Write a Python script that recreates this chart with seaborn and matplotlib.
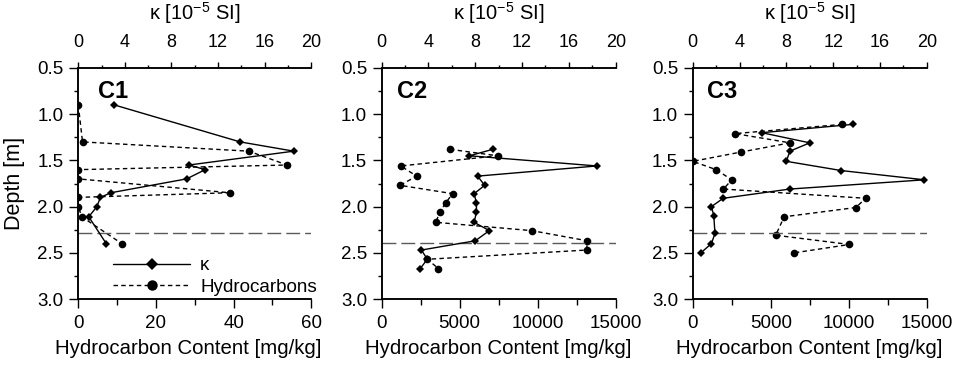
import matplotlib
matplotlib.use("Agg")
import matplotlib.pyplot as plt
from matplotlib.lines import Line2D
from matplotlib.ticker import MultipleLocator, FormatStrFormatter
import seaborn as sns

# Core C1
c1_k_depth = [0.90, 1.30, 1.40, 1.55, 1.60, 1.70, 1.85, 1.90, 2.00, 2.11, 2.40]
c1_k = [3.1, 13.9, 18.5, 9.5, 10.9, 9.3, 2.8, 1.9, 1.6, 0.9, 2.4]
c1_hc_depth = [0.90, 1.30, 1.40, 1.55, 1.60, 1.70, 1.85, 1.90, 2.00, 2.11, 2.40]
c1_hc = [0.0, 1.1, 43.9, 53.8, 0.0, 0.0, 39.0, 0.0, 0.0, 0.9, 11.2]
c1_ref = 2.29

# Core C2
c2_k_depth = [1.38, 1.45, 1.56, 1.67, 1.77, 1.86, 1.96, 2.06, 2.17, 2.26, 2.37, 2.47, 2.57, 2.67]
c2_k = [9.5, 7.5, 18.4, 8.2, 8.8, 7.9, 8.1, 8.1, 7.9, 9.2, 8.0, 3.4, 3.9, 3.3]
c2_hc_depth = [1.38, 1.45, 1.56, 1.67, 1.77, 1.86, 1.96, 2.06, 2.17, 2.26, 2.37, 2.47, 2.57, 2.67]
c2_hc = [4380, 7440, 1220, 2240, 1180, 4550, 4100, 3740, 3460, 9620, 13180, 13140, 2930, 3630]
c2_ref = 2.39

# Core C3
c3_k_depth = [1.11, 1.20, 1.31, 1.40, 1.51, 1.61, 1.71, 1.81, 1.91, 2.00, 2.10, 2.29, 2.40, 2.50]
c3_k = [13.7, 5.9, 10.0, 8.3, 8.0, 12.7, 19.8, 8.3, 2.6, 1.6, 1.8, 1.9, 1.6, 0.7]
c3_hc_depth = [1.11, 1.21, 1.31, 1.41, 1.51, 1.60, 1.71, 1.81, 1.91, 2.01, 2.11, 2.31, 2.41, 2.50]
c3_hc = [9590, 2710, 6240, 3080, 0, 1500, 2500, 1970, 11090, 10450, 5860, 5320, 10040, 6520]
c3_ref = 2.29

core_names = ["C1", "C2", "C3"]
hc_limits = [(0, 60), (0, 15000), (0, 15000)]
hc_major = [20, 5000, 5000]
hc_minor = [10, 2500, 2500]

sns.set_theme(style="ticks")
plt.rcParams["font.family"] = ["Liberation Sans", "DejaVu Sans"]
plt.rcParams["mathtext.fontset"] = "custom"
plt.rcParams["mathtext.rm"] = "Liberation Sans"
plt.rcParams["mathtext.it"] = "Liberation Sans:italic"
plt.rcParams["axes.linewidth"] = 1.1
plt.rcParams["axes.edgecolor"] = "black"
plt.rcParams["text.color"] = "black"
plt.rcParams["axes.labelcolor"] = "black"
plt.rcParams["xtick.color"] = "black"
plt.rcParams["ytick.color"] = "black"

fig = plt.figure(figsize=(9.58, 3.65), dpi=100)
lefts = [0.0817, 0.3984, 0.7231]
widths = [0.2432, 0.2443, 0.2443]
bottom, height = 0.1808, 0.6329

cores = [
    (c1_k_depth, c1_k, c1_hc_depth, c1_hc, c1_ref),
    (c2_k_depth, c2_k, c2_hc_depth, c2_hc, c2_ref),
    (c3_k_depth, c3_k, c3_hc_depth, c3_hc, c3_ref),
]
name_x = [0.083, 0.064, 0.062]
xlabel_x = [0.47, 0.5, 0.5]

tick_size = 13.5
hc_dash = (0, (3.2, 2.4))
for i, (kd, kv, hd, hv, ref) in enumerate(cores):
    ax = fig.add_axes([lefts[i], bottom, widths[i], height])
    axk = ax.twiny()

    # hydrocarbon content on the bottom axis
    sns.lineplot(x=hv, y=hd, ax=ax, sort=False, estimator=None, color="black",
                 linewidth=1.0, linestyle=hc_dash, marker="o", markersize=5.5,
                 markeredgewidth=0)
    # susceptibility on the top axis
    sns.lineplot(x=kv, y=kd, ax=axk, sort=False, estimator=None, color="black",
                 linewidth=1.0, linestyle="-", marker="D", markersize=4.2,
                 markeredgewidth=0)
    ax.axhline(ref, color="#5a5a5a", linewidth=1.0, linestyle=(0, (10, 3.6)))

    for a in (ax, axk):
        a.set_ylim(3.0, 0.5)
        a.spines["right"].set_visible(False)
        a.set_ylabel("")
    ax.set_xlim(*hc_limits[i])
    axk.set_xlim(0, 20)
    ax.xaxis.set_major_locator(MultipleLocator(hc_major[i]))
    ax.xaxis.set_minor_locator(MultipleLocator(hc_minor[i]))
    axk.xaxis.set_major_locator(MultipleLocator(4))
    axk.xaxis.set_minor_locator(MultipleLocator(2))
    ax.yaxis.set_major_locator(MultipleLocator(0.5))
    ax.yaxis.set_minor_locator(MultipleLocator(0.25))
    ax.yaxis.set_major_formatter(FormatStrFormatter("%.1f"))

    ax.tick_params(axis="x", which="major", length=6.5, width=1.0, labelsize=tick_size, pad=5)
    ax.tick_params(axis="x", which="minor", length=4, width=1.0)
    ax.tick_params(axis="y", which="major", length=6.5, width=1.0, labelsize=tick_size, pad=4)
    ax.tick_params(axis="y", which="minor", length=3, width=1.0)
    axk.tick_params(axis="x", which="major", length=4.5, width=1.0, labelsize=13, pad=8)
    axk.tick_params(axis="x", which="minor", length=2.5, width=1.0)
    axk.tick_params(axis="y", left=False, right=False, labelleft=False, labelright=False)

    ax.set_xlabel("Hydrocarbon Content [mg/kg]", fontsize=14.7)
    ax.xaxis.label.set_va("center")
    ax.xaxis.set_label_coords(xlabel_x[i], -0.215)
    axk.set_xlabel(r"κ [10$^{-5}$ SI]", fontsize=14.5)
    axk.xaxis.label.set_va("center")
    axk.xaxis.set_label_coords(0.5, 1.238)

    ax.text(name_x[i], 0.898, core_names[i], transform=ax.transAxes,
            fontsize=17, fontweight="bold", ha="left", va="center")

    if i == 0:
        ax.set_ylabel("Depth [m]", fontsize=15.5)
        ax.yaxis.label.set_va("center")
        ax.yaxis.set_label_coords(-0.274, 0.5)
        handles = [
            Line2D([], [], color="black", linewidth=1.0, marker="D", markersize=6.5,
                   markeredgewidth=0),
            Line2D([], [], color="black", linewidth=1.0, linestyle=(0, (3.2, 2.4)),
                   marker="o", markersize=7.5, markeredgewidth=0),
        ]
        ax.legend(handles, ["κ", "Hydrocarbons"], loc="lower left",
                  bbox_to_anchor=(0.118, -0.02), frameon=False, fontsize=13.6,
                  handlelength=4.07, handletextpad=0.53, labelspacing=0.25,
                  borderaxespad=0)

fig.savefig("out.png", dpi=100)
